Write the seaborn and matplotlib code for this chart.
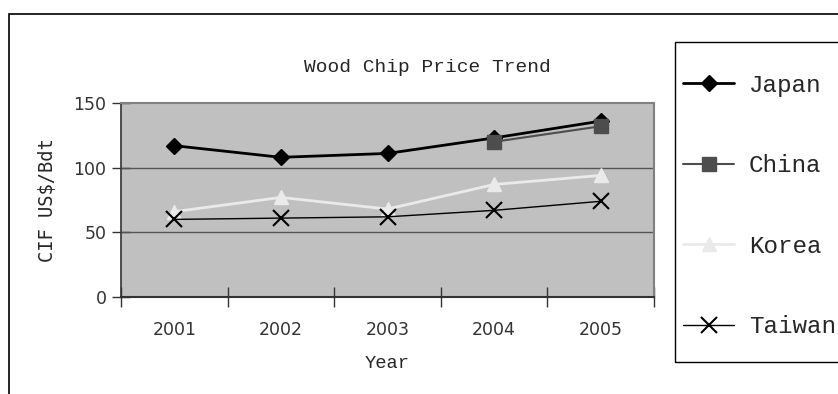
import matplotlib
matplotlib.use("Agg")
import matplotlib.pyplot as plt
from matplotlib.patches import Rectangle
from matplotlib.lines import Line2D
import seaborn as sns
import pandas as pd

years = ["2001", "2002", "2003", "2004", "2005"]
japan = [117, 108, 111, 123, 136]
china = [None, None, None, 120, 132]
korea = [66, 77, 68, 87, 94]
taiwan = [60, 61, 62, 67, 74]
series_names = ["Japan", "China", "Korea", "Taiwan"]
yticks = [0, 50, 100, 150]

sns.set_theme(style="white")
plt.rcParams['font.family'] = ['Liberation Mono', 'DejaVu Sans']

fig = plt.figure(figsize=(8.38, 3.94), dpi=100)
ax = fig.add_axes([121/838, 1-297/394, (654-121)/838, (297-103)/394])
ax.set_facecolor("#C0C0C0")

styles = {
    "Japan": dict(color="#000000", marker="D", markersize=8, lw=2.0, mec="#000000"),
    "China": dict(color="#4D4D4D", marker="s", markersize=10, lw=1.5, mec="#4D4D4D"),
    "Korea": dict(color="#EAEAEA", marker="^", markersize=10, lw=2.0, mec="#EAEAEA"),
    "Taiwan": dict(color="#000000", marker="x", markersize=11, lw=1.0, mec="#000000", mew=1.5),
}
data = {"Japan": japan, "China": china, "Korea": korea, "Taiwan": taiwan}

for y in [50, 100]:
    ax.axhline(y, color="#555555", lw=1.0, zorder=1)

handles = []
for name in series_names:
    vals = data[name]
    df = pd.DataFrame({"x": list(range(len(years))), "y": vals}).dropna()
    st = styles[name]
    sns.lineplot(data=df, x="x", y="y", ax=ax, color=st["color"], marker=st["marker"],
                 markersize=st["markersize"], linewidth=st["lw"], markeredgecolor=st["mec"],
                 markeredgewidth=st.get("mew", 1.0), zorder=3)
    handles.append(Line2D([], [], color=st["color"], marker=st["marker"], markersize=st["markersize"],
                          lw=st["lw"], mec=st["mec"], mew=st.get("mew", 1.0)))

ax.set_xlim(-0.5, 4.5)
ax.set_ylim(0, 150)
ax.set_yticks(yticks)
ax.set_yticklabels([str(v) for v in yticks], family="DejaVu Sans", fontsize=12.5, color="#333333")
ax.set_xticks([-0.5, 0.5, 1.5, 2.5, 3.5, 4.5])
ax.set_xticklabels([])
ax.set_xticks(range(len(years)), minor=True)
ax.set_xticklabels(years, minor=True, family="DejaVu Sans", fontsize=12.5, color="#333333")
ax.tick_params(axis="x", which="major", bottom=True, direction="inout", length=14, width=1, color="#333333")
ax.tick_params(axis="x", which="minor", bottom=True, length=0, pad=17)
ax.tick_params(axis="y", left=True, direction="inout", length=13, width=1, color="#333333", pad=4)

for s in ["top", "right"]:
    ax.spines[s].set_color("#808080")
    ax.spines[s].set_linewidth(1.5)
ax.spines["left"].set_color("#333333")
ax.spines["bottom"].set_color("#333333")
ax.spines["left"].set_linewidth(1.2)
ax.spines["bottom"].set_linewidth(1.5)

ax.set_xlabel("Year", fontsize=13.5, labelpad=12)
ax.set_ylabel("CIF US$/Bdt", family="DejaVu Sans Mono", fontsize=13.5, labelpad=12)
fig.text(427/838, 1-68/394, "Wood Chip Price Trend", fontsize=14, ha="center", va="center")

# outer frame
fig.add_artist(Rectangle((9/838, -0.2), 1.0, 1.2 - 14/394, transform=fig.transFigure,
                         fill=False, edgecolor="#000000", lw=1.2))
# legend box
fig.add_artist(Rectangle((675/838, 1-362/394), 1.0, (362-42)/394, transform=fig.transFigure,
                         fill=False, edgecolor="#000000", lw=1.0))
fig.legend(handles, series_names, loc="upper left", bbox_to_anchor=(683/838, 1-74/394),
           frameon=False, fontsize=17.5, handlelength=2.1, handletextpad=0.6, labelspacing=2.36,
           borderaxespad=0, borderpad=0)

fig.savefig("out.png", dpi=100)
